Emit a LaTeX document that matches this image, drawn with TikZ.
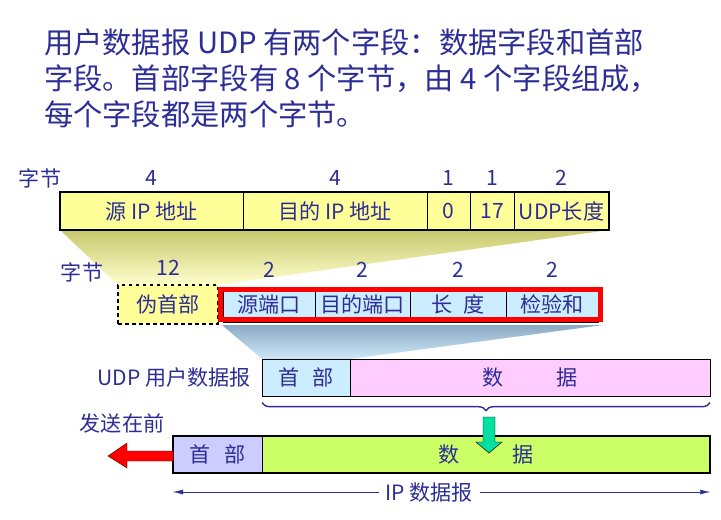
\documentclass[tikz,border=0pt]{standalone}
\usepackage{fontspec}
\setmainfont{Noto Sans CJK SC}
\usepackage{xcolor}
\usepackage{tikz}
\usetikzlibrary{positioning, arrows.meta, decorations.pathreplacing}

\definecolor{txtblue}{RGB}{45,45,150}
\definecolor{cellyellow}{RGB}{255,255,153}
\definecolor{cellblue}{RGB}{204,236,255}
\definecolor{cellpink}{RGB}{255,204,255}
\definecolor{celllav}{RGB}{204,204,255}
\definecolor{cellgreen}{RGB}{204,255,102}
\definecolor{arrowgreen}{RGB}{0,224,160}

\begin{document}
\begin{tikzpicture}[
    x=0.03cm, y=-0.03cm,
    every node/.style={text=txtblue, font=\fontsize{18}{21}\selectfont, inner sep=0pt, outer sep=0pt},
    cell/.style={draw=black, thin, minimum height=1.11cm, align=center},
    ycell/.style={cell, fill=cellyellow, minimum height=1.14cm},
    bcell/.style={cell, fill=cellblue, minimum height=1.05cm},
    lbl/.style={above=0.2cm of #1}
]
\useasboundingbox (0,0) rectangle (721,519);

% title
\node[anchor=north west, align=left, font=\fontsize{25}{30.5}\selectfont] (title) at (44,29)
    {用户数据报 UDP 有两个字段：数据字段和首部\\
     字段。首部字段有 8 个字节，由 4 个字段组成，\\
     每个字段都是两个字节。};

% shades
\shade[top color={rgb,255:red,200;green,200;blue,110}, bottom color={rgb,255:red,255;green,255;blue,205}]
    (60,230) -- (609,230) -- (218,285) -- (118,285) -- cycle;
\shade[top color={rgb,255:red,140;green,170;blue,195}, bottom color={rgb,255:red,205;green,232;blue,250}]
    (222,325) -- (603,325) -- (350,359) -- (262,359) -- cycle;

% pseudo header row
\node[ycell, anchor=west, minimum width=5.49cm] (sip) at (60,211) {源 IP 地址};
\node[ycell, minimum width=5.52cm, right=0pt of sip] (dip) {目的 IP 地址};
\node[ycell, minimum width=1.29cm, right=0pt of dip] (zero) {0};
\node[ycell, minimum width=1.32cm, right=0pt of zero] (proto) {17};
\node[ycell, minimum width=2.85cm, right=0pt of proto] (ulen) {UDP长度};
\draw[line width=2pt] (sip.north west) rectangle (ulen.south east);

\node (byteA) at (40,178) {字节};
\node[lbl=sip] {4};
\node[lbl=dip] {4};
\node[lbl=zero] {1};
\node[lbl=proto] {1};
\node[lbl=ulen] {2};

% udp header row
\node[ycell, dashed, line width=1.4pt, anchor=west, minimum width=3.0cm, minimum height=1.17cm] (pseudo) at (118,304.5) {伪首部};
\node[bcell, anchor=west, minimum width=2.76cm] (sport) at (223,304.5) {源端口};
\node[bcell, minimum width=2.85cm, right=0pt of sport] (dport) {目的端口};
\node[bcell, minimum width=2.88cm, right=0pt of dport] (ulen2) {长\hspace{0.35cm}度};
\node[bcell, minimum width=2.76cm, right=0pt of ulen2] (csum) {检验和};
\draw[red, line width=4.3pt] ([shift={(-2.5,2.5)}]sport.north west) rectangle ([shift={(2.5,-2.5)}]csum.south east);

\node (byteB) at (82,272) {字节};
\node[above=0.3cm of pseudo] {12};
\node[above=0.3cm of sport] {2};
\node[above=0.3cm of dport] {2};
\node[above=0.3cm of ulen2] {2};
\node[above=0.3cm of csum] {2};

% udp datagram
\node[cell, fill=cellblue, anchor=west, minimum width=2.64cm] (udph) at (262,377.5) {首\hspace{0.4cm}部};
\node[cell, fill=cellpink, minimum width=10.8cm, right=0pt of udph] (udpd) {数\hspace{1.6cm}据};
\node[left=0.33cm of udph] (udpname) {UDP 用户数据报};
\draw[txtblue, line width=1.2pt, decorate, decoration={brace, mirror, amplitude=0.24cm}]
    ([yshift=-0.2cm]udph.south west) -- ([yshift=-0.2cm]udpd.south east);

% ip datagram
\node[cell, fill=celllav, anchor=west, minimum width=2.67cm] (iph) at (173,454.5) {首\hspace{0.4cm}部};
\node[cell, fill=cellgreen, minimum width=13.44cm, right=0pt of iph] (ipd) {数\hspace{1.58cm}据};
\draw[line width=2pt] (iph.north west) rectangle (ipd.south east);
\node (first) at (122,423) {发送在前};

% arrows
\coordinate (gtip) at (489,453);
\draw[fill=arrowgreen, thin] (483,417) -- (495,417) -- (495,442) -- (502,442) -- (gtip) -- (476,442) -- (483,442) -- cycle;
\coordinate (rtip) at (108,456);
\draw[fill=red, draw={rgb,255:red,90;green,0;blue,0}, thin] (iph.west |- 0,451) -- (127,451) -- (127,443) -- (rtip) -- (127,468) -- (127,461) -- (iph.west |- 0,461);

\draw[txtblue, {Latex[length=0.3cm,width=0.15cm]}-{Latex[length=0.3cm,width=0.15cm]}]
    ([yshift=-0.57cm]iph.south west) -- node[pos=0.477, fill=white, inner xsep=0.2cm] (ipname) {IP 数据报} ([yshift=-0.57cm]ipd.south east);
\end{tikzpicture}
\end{document}
